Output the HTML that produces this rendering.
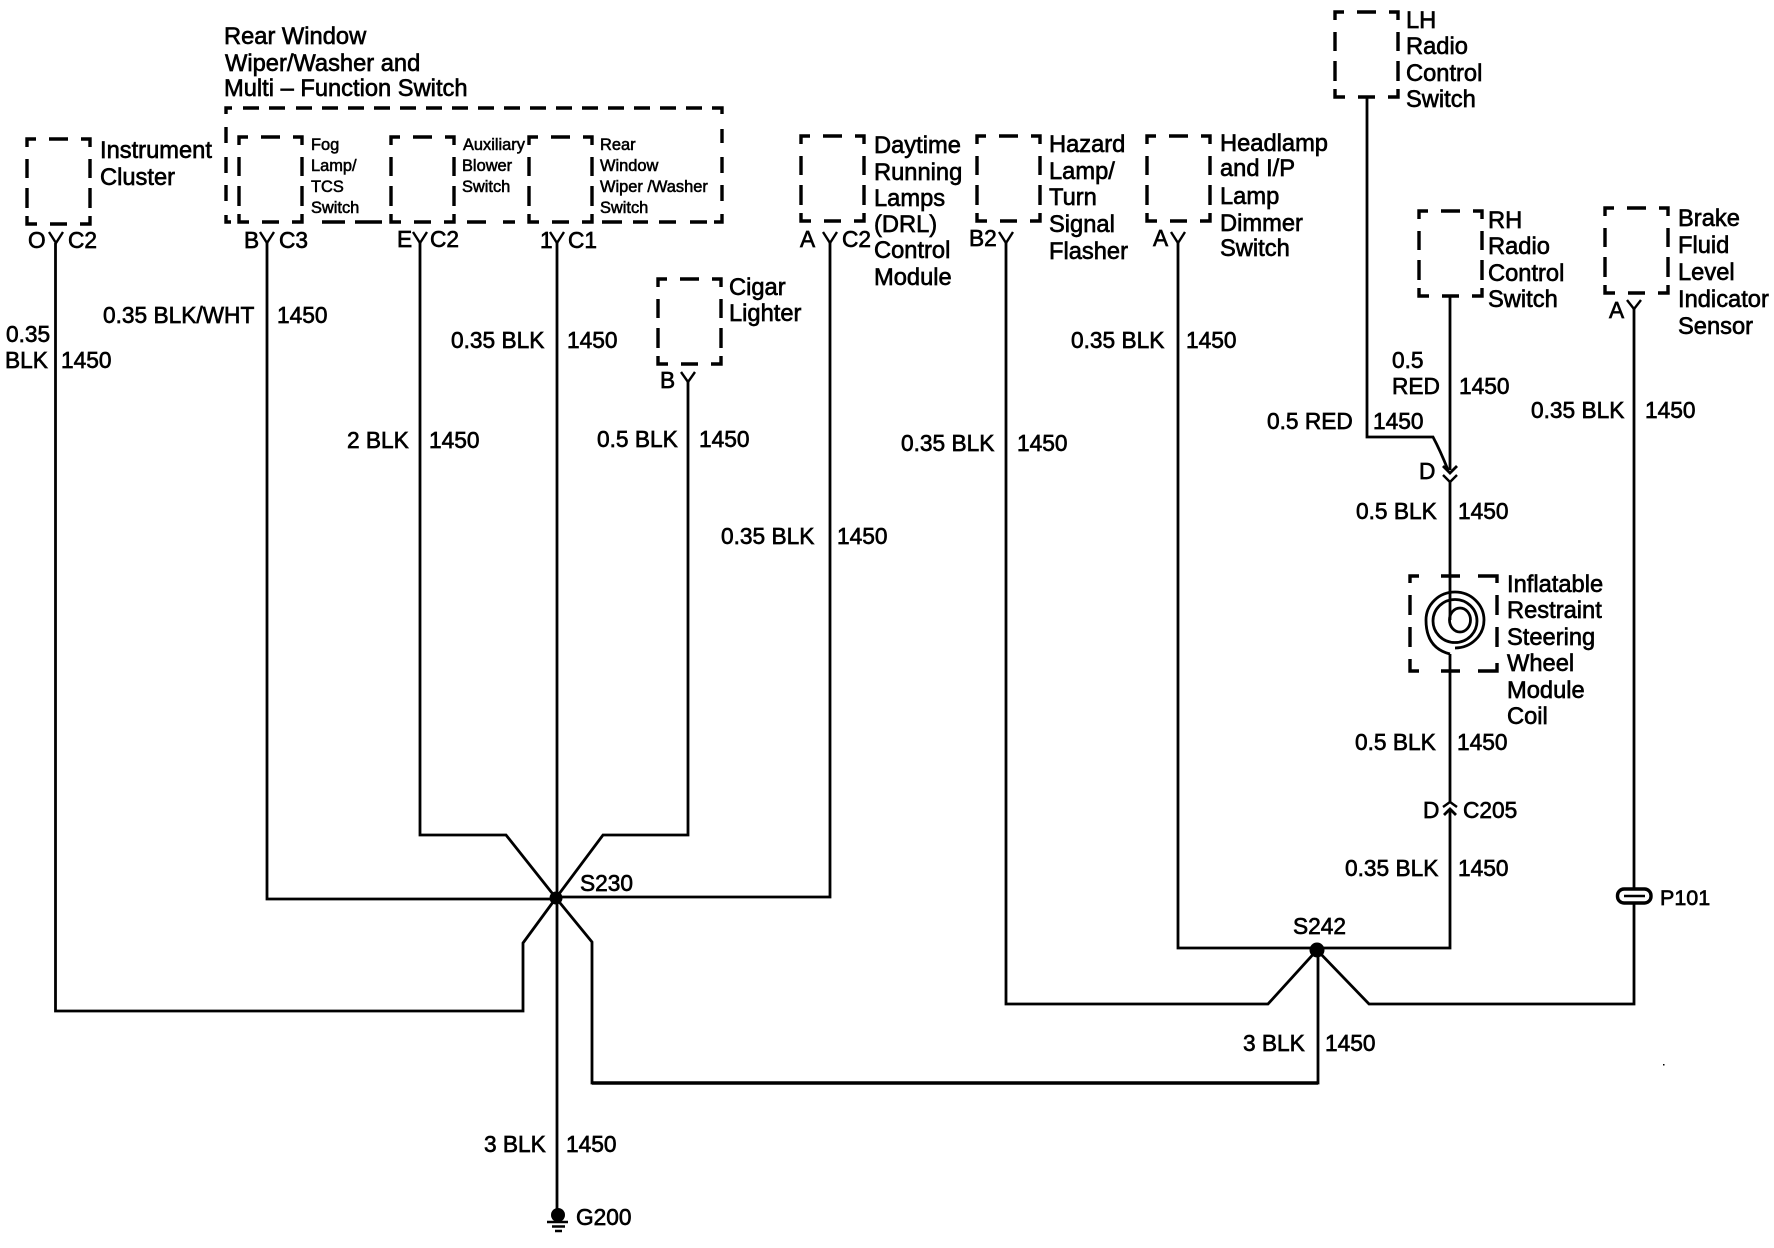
<!DOCTYPE html>
<html><head><meta charset="utf-8"><title>Wiring diagram</title>
<style>
html,body{margin:0;padding:0;background:#fff}
svg{display:block}
text{font-family:"Liberation Sans",Arial,sans-serif;font-size:22.7px;fill:#000;stroke:#000;stroke-width:.65}
.l text{font-size:23.7px}
.s text{font-size:16.4px;stroke-width:.55}
.w{fill:none;stroke:#000;stroke-width:2.8;stroke-linejoin:miter}
.b{fill:none;stroke:#000;stroke-width:3.4}
.f{fill:none;stroke:#000;stroke-width:2.4}
</style></head><body>
<svg xmlns="http://www.w3.org/2000/svg" width="1774" height="1248" viewBox="0 0 1774 1248">
<rect width="1774" height="1248" fill="#fff"/>
<defs><path id="bx" class="b" d="M0,8V0H9M22,0H41M54,0H63V8M0,20V39M0,49V69M0,77V85H10M23,85H40M53,85H63V77M63,20V39M63,49V69"/></defs>

<!-- component boxes -->
<use href="#bx" x="27" y="139"/>
<use href="#bx" x="239" y="137"/>
<use href="#bx" x="391" y="137"/>
<use href="#bx" x="529" y="137"/>
<use href="#bx" x="658" y="279"/>
<use href="#bx" x="801" y="136"/>
<use href="#bx" x="977" y="136"/>
<use href="#bx" x="1147" y="136"/>
<use href="#bx" x="1335" y="12"/>
<use href="#bx" x="1419" y="211"/>
<use href="#bx" x="1605" y="208"/>
<!-- large switch box -->
<path class="b" d="M226,114V108H232M243,108H259M269,108H285M296,108H312M322,108H338M348,108H364M374,108H390M400,108H416M426,108H442M452,108H468M478,108H494M504,108H520M530,108H546M556,108H572M582,108H598M608,108H624M634,108H650M660,108H676M686,108H702M712,108H722V114M226,127V143M226,157V173M226,185V201M226,215V222H231M322,222H345M355,222H382M467,222H486M503,222H515M602,222H622M633,222H648M659,222H676M690,222H707M714,222H722V214M722,129V143M722,157V173M722,185V201"/>
<!-- coil box -->
<path class="b" d="M1410,583V576H1419M1441,576H1460M1478,576H1497V583M1410,595V615M1410,627V647M1410,659V671H1419M1441,671H1460M1478,671H1497V663M1497,595V615M1497,627V647"/>

<!-- wires S230 -->
<path class="w" d="M55.5,243V1011H523V943L556,898"/>
<path class="w" d="M267,243V899H556"/>
<path class="w" d="M420,243V835H506L556,898"/>
<path class="w" d="M557,243V1209"/>
<path class="w" d="M688,381V835H603L556,898"/>
<path class="w" d="M830,243V897H556"/>
<path class="w" d="M556,898L592,942V1083H1318V950"/>
<path d="M592,1083H1318" stroke="#000" stroke-width="3.6" fill="none"/>
<!-- wires S242 -->
<path class="w" d="M1006,243V1004H1268L1317,950L1369,1004H1634V903"/>
<path class="w" d="M1178,243V948H1450V809"/>
<path class="w" d="M1634,307V888"/>
<path class="w" d="M1367,96V437H1433Q1440,450 1448,470"/>
<path class="w" d="M1450,295V470"/>
<path class="w" d="M1450,481V620"/>
<path class="w" d="M1450,654V803"/>

<!-- fork symbols -->
<path class="f" d="M49,232L56,243L63,232M260,232L267,243L274,232M413,232L420,243L427,232M550,232L557,243L564,232M823,232L830,243L837,232M999,232L1006,243L1013,232M1171,232L1178,243L1185,232M681,372L688,382L695,372M1627,300L1634,309L1641,300"/>

<!-- connector D top -->
<path class="w" d="M1443,466L1450,473L1457,466"/>
<path class="f" d="M1443,475L1450,482L1457,475"/>
<!-- connector C205 -->
<path class="f" d="M1443,807L1450,802L1457,807"/>
<path class="w" d="M1444,815L1450,809L1456,815"/>

<!-- coil -->
<path class="w" d="M1450,654Q1426,648 1426,620A29,28 0 1 1 1484,620A29,28 0 0 1 1455,648"/>
<ellipse cx="1455" cy="621" rx="22" ry="21.5" class="w"/>
<ellipse cx="1460" cy="620" rx="10.5" ry="12" class="w"/>

<!-- splices -->
<circle cx="556" cy="898" r="6.5" fill="#000"/>
<circle cx="1317" cy="950" r="7.5" fill="#000"/>

<!-- ground -->
<circle cx="558" cy="1215" r="7" fill="#000"/>
<path class="f" d="M547,1222H568M552,1226.5H565M555,1231H562"/>

<!-- P101 -->
<rect x="1617.5" y="889" width="33.5" height="14" rx="6.5" fill="#fff" stroke="#000" stroke-width="3.4"/>
<path d="M1624,896H1645" stroke="#000" stroke-width="2.6" fill="none"/>
<rect x="1663" y="1064" width="1.5" height="1.5" fill="#000"/>

<!-- component labels -->
<g class="l">
<text x="224" y="44">Rear Window</text>
<text x="225" y="71">Wiper/Washer and</text>
<text x="224" y="96">Multi – Function Switch</text>
<text x="100" y="158">Instrument</text>
<text x="100" y="185">Cluster</text>
<text x="729" y="295">Cigar</text>
<text x="729" y="321">Lighter</text>
<text x="874" y="153">Daytime</text>
<text x="874" y="180">Running</text>
<text x="874" y="206">Lamps</text>
<text x="874" y="232">(DRL)</text>
<text x="874" y="258">Control</text>
<text x="874" y="285">Module</text>
<text x="1049" y="152">Hazard</text>
<text x="1049" y="179">Lamp/</text>
<text x="1049" y="205">Turn</text>
<text x="1049" y="232">Signal</text>
<text x="1049" y="259">Flasher</text>
<text x="1220" y="151">Headlamp</text>
<text x="1220" y="176">and I/P</text>
<text x="1220" y="204">Lamp</text>
<text x="1220" y="231">Dimmer</text>
<text x="1220" y="256">Switch</text>
<text x="1406" y="28">LH</text>
<text x="1406" y="54">Radio</text>
<text x="1406" y="81">Control</text>
<text x="1406" y="107">Switch</text>
<text x="1488" y="228">RH</text>
<text x="1488" y="254">Radio</text>
<text x="1488" y="281">Control</text>
<text x="1488" y="307">Switch</text>
<text x="1678" y="226">Brake</text>
<text x="1678" y="253">Fluid</text>
<text x="1678" y="280">Level</text>
<text x="1678" y="307">Indicator</text>
<text x="1678" y="334">Sensor</text>
<text x="1507" y="592">Inflatable</text>
<text x="1507" y="618">Restraint</text>
<text x="1507" y="645">Steering</text>
<text x="1507" y="671">Wheel</text>
<text x="1507" y="698">Module</text>
<text x="1507" y="724">Coil</text>
</g>

<!-- pin labels -->
<text x="28" y="248">O</text><text x="68" y="248">C2</text>
<text x="244" y="248">B</text><text x="279" y="248">C3</text>
<text x="397" y="247">E</text><text x="430" y="247">C2</text>
<text x="540" y="248">1</text><text x="568" y="248">C1</text>
<text x="800" y="247">A</text><text x="842" y="247">C2</text>
<text x="660" y="388">B</text>
<text x="969" y="246">B2</text>
<text x="1153" y="246">A</text>
<text x="1609" y="318">A</text>

<!-- wire labels -->
<text x="103" y="323">0.35 BLK/WHT</text><text x="277" y="323">1450</text>
<text x="6" y="342">0.35</text><text x="5" y="368">BLK</text><text x="61" y="368">1450</text>
<text x="451" y="348">0.35 BLK</text><text x="567" y="348">1450</text>
<text x="347" y="448">2 BLK</text><text x="429" y="448">1450</text>
<text x="597" y="447">0.5 BLK</text><text x="699" y="447">1450</text>
<text x="721" y="544">0.35 BLK</text><text x="837" y="544">1450</text>
<text x="1071" y="348">0.35 BLK</text><text x="1186" y="348">1450</text>
<text x="901" y="451">0.35 BLK</text><text x="1017" y="451">1450</text>
<text x="1392" y="368">0.5</text><text x="1392" y="394">RED</text><text x="1459" y="394">1450</text>
<text x="1267" y="429">0.5 RED</text><text x="1373" y="429">1450</text>
<text x="1531" y="418">0.35 BLK</text><text x="1645" y="418">1450</text>
<text x="1419" y="479">D</text>
<text x="1356" y="519">0.5 BLK</text><text x="1458" y="519">1450</text>
<text x="1355" y="750">0.5 BLK</text><text x="1457" y="750">1450</text>
<text x="1423" y="818">D</text><text x="1463" y="818">C205</text>
<text x="1345" y="876">0.35 BLK</text><text x="1458" y="876">1450</text>
<text x="1293" y="934">S242</text>
<text x="1660" y="905" style="font-size:21.5px">P101</text>
<text x="1243" y="1051">3 BLK</text><text x="1325" y="1051">1450</text>
<text x="580" y="891">S230</text>
<text x="484" y="1152">3 BLK</text><text x="566" y="1152">1450</text>
<text x="576" y="1225">G200</text>

<!-- small labels -->
<g class="s">
<text x="311" y="150">Fog</text><text x="311" y="171">Lamp/</text><text x="311" y="192">TCS</text><text x="311" y="213">Switch</text>
<text x="463" y="150">Auxiliary</text><text x="462" y="171">Blower</text><text x="462" y="192">Switch</text>
<text x="600" y="150">Rear</text><text x="600" y="171">Window</text><text x="600" y="192">Wiper /Washer</text><text x="600" y="213">Switch</text>
</g>
</svg>
</body></html>
